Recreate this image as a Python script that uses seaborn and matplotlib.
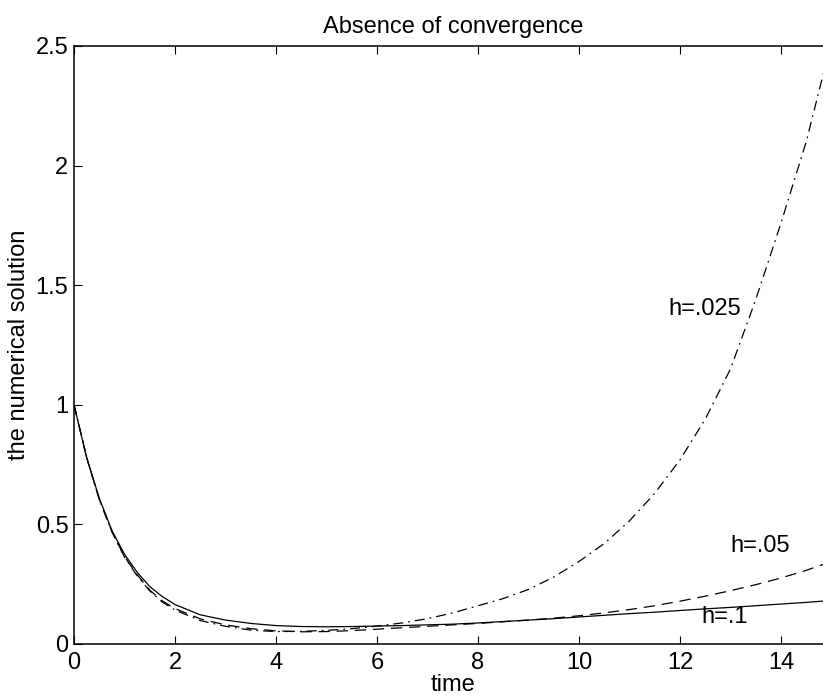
import numpy as np
import pandas as pd
import matplotlib
matplotlib.use("Agg")
import matplotlib.pyplot as plt
import seaborn as sns

# ---- data ----
t_vals = [0, 0.25, 0.5, 0.75, 1.0, 1.25, 1.5, 1.75, 2.0, 2.5, 3.0, 3.5, 4.0, 4.5,
          5.0, 5.5, 6.0, 6.5, 7.0, 7.5, 8.0, 8.5, 9.0, 9.5, 10.0, 10.5, 11.0,
          11.5, 12.0, 12.5, 13.0, 13.5, 14.0, 14.5, 15.0]

y_h1 = [1.0, 0.78, 0.61, 0.475, 0.375, 0.30, 0.24, 0.198, 0.165, 0.122, 0.100,
        0.086, 0.077, 0.073, 0.072, 0.073, 0.075, 0.077, 0.080, 0.083, 0.088,
        0.094, 0.100, 0.106, 0.113, 0.120, 0.127, 0.133, 0.140, 0.147, 0.153,
        0.160, 0.167, 0.174, 0.182]

y_h05 = [1.0, 0.78, 0.605, 0.47, 0.365, 0.29, 0.225, 0.18, 0.148, 0.105, 0.080,
         0.064, 0.055, 0.051, 0.052, 0.056, 0.062, 0.068, 0.074, 0.080, 0.086,
         0.093, 0.100, 0.108, 0.118, 0.130, 0.144, 0.160, 0.179, 0.200, 0.223,
         0.248, 0.276, 0.308, 0.345]

y_h025 = [1.0, 0.78, 0.605, 0.47, 0.363, 0.285, 0.222, 0.175, 0.142, 0.098,
          0.074, 0.058, 0.052, 0.053, 0.057, 0.064, 0.075, 0.088, 0.106, 0.130,
          0.160, 0.190, 0.228, 0.280, 0.345, 0.420, 0.515, 0.630, 0.770, 0.940,
          1.150, 1.440, 1.760, 2.100, 2.520]

series_names = ["h=.1", "h=.05", "h=.025"]
label_x = [12.43, 12.99, 11.76]
label_y = [0.113, 0.41, 1.40]

x_ticks = [0, 2, 4, 6, 8, 10, 12, 14]
x_ticklabels = ["0", "2", "4", "6", "8", "10", "12", "14"]
y_ticks = [0, 0.5, 1, 1.5, 2, 2.5]
y_ticklabels = ["0", "0.5", "1", "1.5", "2", "2.5"]

# ---- build table ----
frames = []
for name, ys in zip(series_names, [y_h1, y_h05, y_h025]):
    frames.append(pd.DataFrame({"time": t_vals, "value": ys, "h": name}))
df = pd.concat(frames, ignore_index=True)

sns.set_theme(style="white")
plt.rcParams["font.family"] = ["Liberation Sans", "DejaVu Sans"]
FS = 17

fig = plt.figure(figsize=(8.23, 7.0), dpi=100)
ax = fig.add_axes([74 / 823, 56 / 700, (831.5 - 74) / 823, (644 - 46) / 700])

lw = 0.9
dashes = {"h=.1": "", "h=.05": (9, 5.5), "h=.025": (8, 4, 1.4, 4)}
sns.lineplot(data=df, x="time", y="value", style="h", dashes=dashes,
             color="black", linewidth=lw, legend=False, estimator=None,
             sort=False, ax=ax)

for name, lx, ly in zip(series_names, label_x, label_y):
    ax.text(lx, ly, name, ha="left", va="center", fontsize=FS, color="black")

ax.set_xlim(0, 15)
ax.set_ylim(0, 2.5)
ax.set_xticks(x_ticks)
ax.set_xticklabels(x_ticklabels)
ax.set_yticks(y_ticks)
ax.set_yticklabels(y_ticklabels)
ax.tick_params(axis="both", direction="in", length=6, width=0.8, color="black",
               labelsize=FS, labelcolor="black", top=True, right=True,
               bottom=True, left=True)
ax.tick_params(axis="x", pad=6)
ax.tick_params(axis="y", pad=4)
for sp in ax.spines.values():
    sp.set_visible(True)
    sp.set_color("black")
    sp.set_linewidth(1.1)

ax.set_title("Absence of convergence", fontsize=FS, color="black", pad=9)
ax.set_xlabel("time", fontsize=FS, color="black", labelpad=0)
ax.set_ylabel("the numerical solution", fontsize=FS, color="black", labelpad=4)
ax.grid(False)
ax.set_facecolor("white")
fig.patch.set_facecolor("white")

fig.savefig("out.png", dpi=100)
